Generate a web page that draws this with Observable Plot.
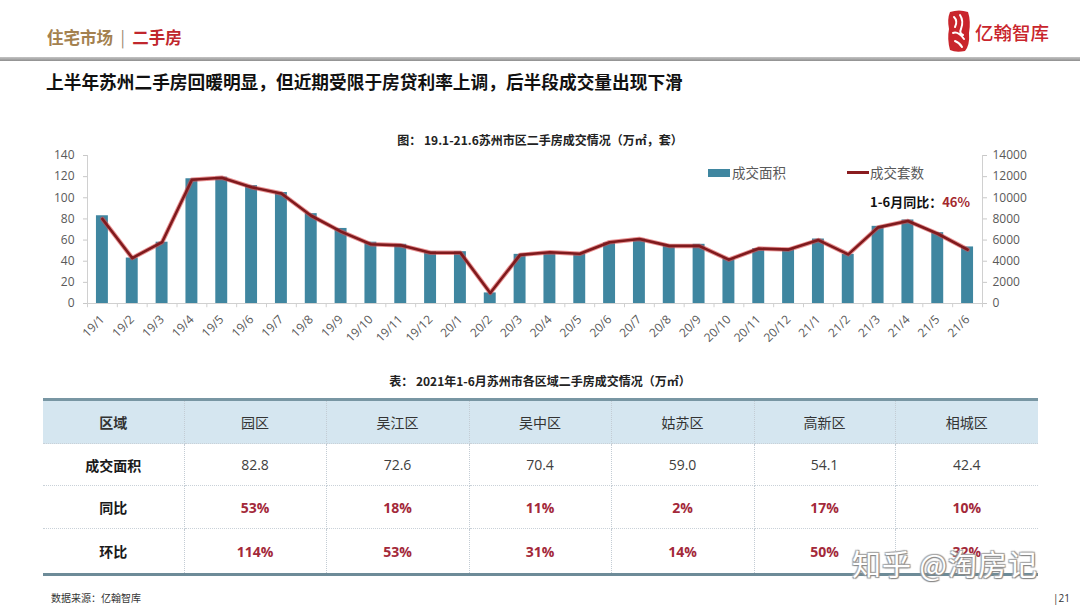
<!DOCTYPE html>
<html>
<head>
<meta charset="utf-8">
<script src="https://cdn.jsdelivr.net/npm/d3@7"></script>
<script src="https://cdn.jsdelivr.net/npm/@observablehq/plot@0.6"></script>
<style>
  html, body { margin:0; padding:0; background:#fff; }
  #page { position:relative; width:1080px; height:608px; overflow:hidden; background:#fff;
          font-family:"Open Sans","Noto Sans CJK SC",sans-serif; }
  .abs { position:absolute; white-space:nowrap; }
  #hdr { left:47px; top:25px; font-family:"Noto Sans CJK SC"; font-weight:700; font-size:16.5px; line-height:24px; }
  #bar { left:0; top:57px; width:1080px; height:4px; background:linear-gradient(to bottom,#c4c4c4,#8f8f8f); }
  #logoIcon { left:946px; top:9px; }
  #logoText { left:975px; top:20px; font-family:"Noto Sans CJK SC"; font-size:18.5px; line-height:24px; color:#c9252c; font-weight:500; }
  #sub { left:46px; top:68px; font-family:"Noto Sans CJK SC"; font-weight:700; font-size:17.7px; line-height:26px; color:#111; }
  #ctitle { left:0; width:1080px; top:131px; text-align:center; font-family:"Noto Sans CJK SC"; font-weight:700; font-size:12px; line-height:18px; color:#222; }
  #chart { left:0; top:145px; }
  .leg { font-family:"Noto Sans CJK SC"; font-size:13.5px; color:#595959; line-height:18px; }
  #ann { left:870px; top:193px; font-family:"Noto Sans CJK SC"; font-weight:700; font-size:13px; line-height:18px; color:#111; }
  #ttitle { left:0; width:1080px; top:372px; text-align:center; font-family:"Noto Sans CJK SC"; font-weight:700; font-size:12px; line-height:18px; color:#222; }
  #tbl { position:absolute; left:43px; top:398px; width:995px; border-collapse:collapse; table-layout:fixed;
         border-top:3px solid #7896a3; border-bottom:3px solid #6d8b98; }
  #tbl td { text-align:center; vertical-align:middle; padding:0; font-size:14px; color:#404040;
            border-left:1px dotted #c3ccd4; border-right:1px dotted #c3ccd4; border-bottom:1px dotted #c9d1d8; }
  #tbl tr td:first-child { border-left:none; font-family:"Noto Sans CJK SC"; font-weight:700; color:#1a1a1a; }
  #tbl tr td:last-child { border-right:none; }
  #tbl tr.h td { background:#d5e6f0; height:42px; font-family:"Noto Sans CJK SC"; color:#333; }
  #tbl tr.r1 td { height:41px; }
  #tbl tr.r2 td { height:42px; }
  #tbl tr.r3 td { height:44px; border-bottom:none; }
  #tbl td.pct { font-weight:700; color:#a3293a; }
  #src { left:51px; top:591px; font-family:"Noto Sans CJK SC"; font-size:10px; line-height:14px; color:#333; }
  #pg { left:1053px; top:591px; font-size:10px; line-height:14px; color:#333; }
  #wm { left:852px; top:545px; font-family:"Noto Sans CJK SC"; font-size:29px; line-height:36px; color:#fff;
        text-shadow: 1px 1px 1px #888, -1px -1px 1px #aaa, 1px -1px 1px #999, -1px 1px 1px #999; letter-spacing:1px; }
  svg g[aria-label="y-axis tick"] path { stroke:#c8c8c8; }
</style>
</head>
<body>
<div id="page">
  <div id="hdr" class="abs"><span style="color:#a4814f">住宅市场</span><span style="color:#a08a70;font-weight:400">&nbsp;&nbsp;|&nbsp;&nbsp;</span><span style="color:#c0272d">二手房</span></div>
  <svg id="logoIcon" class="abs" width="26" height="44" viewBox="0 0 26 44">
    <path d="M4 3 Q13 0 22 3 Q25 12 23 24 Q24 36 19 42 Q10 44 4 41 Q1 30 3 20 Q1 10 4 3 Z" fill="#c9252c"/>
    <path d="M8 8 Q12 12 9 18 M14 6 Q18 12 15 20 Q13 24 17 26 M7 24 Q12 22 18 30 M9 32 Q14 34 16 38" stroke="#fff" stroke-width="2" fill="none" stroke-linecap="round"/>
  </svg>
  <div id="logoText" class="abs">亿翰智库</div>
  <div id="bar" class="abs"></div>
  <div id="sub" class="abs">上半年苏州二手房回暖明显，但近期受限于房贷利率上调，后半段成交量出现下滑</div>
  <div id="ctitle" class="abs">图： 19.1-21.6苏州市区二手房成交情况（万㎡，套）</div>
  <div id="chart" class="abs"></div>
  <div class="abs" style="left:708px;top:169px;width:22px;height:8px;background:#3f86a0"></div>
  <div class="abs leg" style="left:732px;top:163px">成交面积</div>
  <div class="abs" style="left:847px;top:171px;width:22px;height:3px;background:#8a1c1f"></div>
  <div class="abs leg" style="left:870px;top:163px">成交套数</div>
  <div id="ann" class="abs">1-6月同比：<span style="color:#a3282e">46%</span></div>
  <div id="ttitle" class="abs">表： 2021年1-6月苏州市各区域二手房成交情况（万㎡）</div>
  <table id="tbl"></table>
  <div id="src" class="abs">数据来源：亿翰智库</div>
  <div id="pg" class="abs">|21</div>
  <div id="wm" class="abs">知乎 @淘房记</div>
</div>
<script>
// ---- chart data ----
const months = ["19/1","19/2","19/3","19/4","19/5","19/6","19/7","19/8","19/9","19/10","19/11","19/12",
                "20/1","20/2","20/3","20/4","20/5","20/6","20/7","20/8","20/9","20/10","20/11","20/12",
                "21/1","21/2","21/3","21/4","21/5","21/6"];
const areaValues = [83,43,58,118,119.5,111.5,105,85,71,58,56,49,49,10,46.5,48,47,57.5,61,54.5,56,42.5,52,52,61,46.5,73,79,67,53.5];
const countValues = [8000,4300,5800,11700,11900,11000,10400,8300,6800,5600,5500,4800,4800,1000,4600,4850,4700,5800,6100,5450,5450,4150,5200,5100,6000,4650,7200,7800,6600,5100];
const leftTicks = [0,20,40,60,80,100,120,140];

// ---- table data ----
const tableHeader = ["区域","园区","吴江区","吴中区","姑苏区","高新区","相城区"];
const rowNames = ["成交面积","同比","环比"];
const tableArea = ["82.8","72.6","70.4","59.0","54.1","42.4"];
const tableYoY = ["53%","18%","11%","2%","17%","10%"];
const tableMoM = ["114%","53%","31%","14%","50%","32%"];

const data = months.map((m,i) => ({m, area: areaValues[i], count: countValues[i]}));
const W = 1080, H = 215, mL = 87, mR = 98, mT = 10, mB = 57;
const step = (W - mL - mR) / months.length;
const axisGray = "#d0d0d0";

const chart = Plot.plot({
  width: W, height: H,
  marginLeft: mL, marginRight: mR, marginTop: mT, marginBottom: mB,
  style: {fontFamily: "'Open Sans','Noto Sans CJK SC',sans-serif", fontSize: "12px", color: "#595959", background: "transparent", overflow: "visible"},
  x: {domain: months, paddingInner: 0.6, paddingOuter: 0.3, round: false, label: null},
  y: {domain: [0, 140], label: null},
  marks: [
    Plot.barY(data, {x: "m", y: "area", fill: "#3f86a0"}),
    Plot.ruleY([0], {stroke: axisGray}),
    Plot.ruleX([months[0]], {y1: 0, y2: 140, dx: -step/2, stroke: axisGray}),
    Plot.ruleX([months[months.length-1]], {y1: 0, y2: 140, dx: step/2, stroke: axisGray}),
    Plot.ruleX(months, {y1: 0, y2: -4, dx: -step/2, stroke: axisGray}),
    Plot.ruleX([months[months.length-1]], {y1: 0, y2: -4, dx: step/2, stroke: axisGray}),
    Plot.lineY(data, {x: "m", y: d => d.count / 100, stroke: "#d9484a", strokeWidth: 4.5, strokeOpacity: 0.6}),
    Plot.lineY(data, {x: "m", y: d => d.count / 100, stroke: "#7f1a1d", strokeWidth: 2.6}),
    Plot.axisY({ticks: leftTicks, tickSize: 4, tickPadding: 9, fontSize: 12, color: "#595959", label: null}),
    Plot.axisY({ticks: leftTicks, anchor: "right", tickSize: 4, tickPadding: 6, fontSize: 12, color: "#595959", label: null, tickFormat: d => String(d * 100)}),
    Plot.axisX({tickRotate: -45, tickSize: 0, tickPadding: 14, fontSize: 12, color: "#595959", label: null})
  ]
});
document.getElementById("chart").appendChild(chart);

// ---- build table ----
const tbl = document.getElementById("tbl");
const widths = [141,142,143,142,143,141,143];
const cg = document.createElement("colgroup");
widths.forEach(w => { const c = document.createElement("col"); c.style.width = w + "px"; cg.appendChild(c); });
tbl.appendChild(cg);
function addRow(cls, cells, pct) {
  const tr = document.createElement("tr");
  tr.className = cls;
  cells.forEach((t, i) => {
    const td = document.createElement("td");
    td.textContent = t;
    if (pct && i > 0) td.className = "pct";
    tr.appendChild(td);
  });
  tbl.appendChild(tr);
}
addRow("h", tableHeader, false);
addRow("r1", [rowNames[0], ...tableArea], false);
addRow("r2", [rowNames[1], ...tableYoY], true);
addRow("r3", [rowNames[2], ...tableMoM], true);
</script>
</body>
</html>
